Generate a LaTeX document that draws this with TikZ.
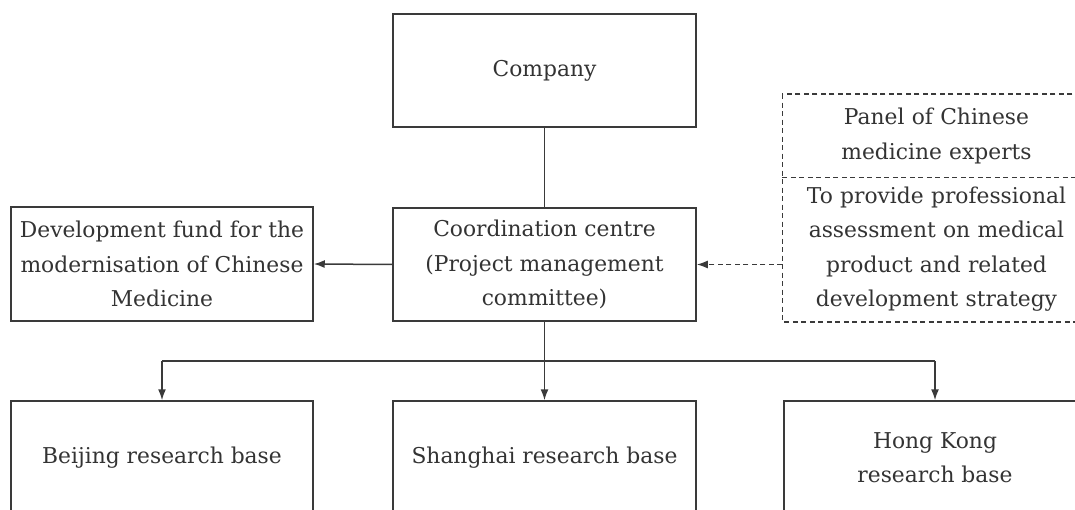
\documentclass[tikz,border=0pt]{standalone}
\usepackage{fontspec}
\setmainfont{DejaVu Serif}
\usetikzlibrary{arrows.meta,positioning}
\definecolor{ink}{HTML}{333333}
\definecolor{linec}{HTML}{3A3A3A}
\begin{document}
\begin{tikzpicture}[x=1pt,y=-1pt,
  box/.style={draw=linec,line width=1.5pt,rectangle,inner sep=0pt,align=center,text=ink,
    font=\fontsize{21.8}{34.5}\selectfont},
  tbox/.style={box,draw=none},
  dline/.style={draw=linec,line width=1.5pt,dash pattern=on 5pt off 3.5pt},
  conn/.style={draw=linec,line width=1.5pt},
  arr/.style={conn,-{Latex[length=11pt,width=8pt]}},
  darr/.style={arr,dash pattern=on 5pt off 3.5pt}]
\useasboundingbox (0,0) rectangle (1075,510);
\clip (0,0) rectangle (1075,510);
\node[box,minimum width=303pt,minimum height=113pt] (comp) at (544.5,70.5) {Company};
\node[box,minimum width=303pt,minimum height=113pt] (coord) at (544.5,264.5)
  {Coordination centre\\(Project management\\committee)};
\node[box,minimum width=302pt,minimum height=114pt] (fund) at (162,264)
  {Development fund for the\\modernisation of Chinese\\Medicine};
\node[tbox,minimum width=307pt,minimum height=82pt,text width=307pt] (panel) at (936.5,136)
  {Panel of Chinese\\medicine experts};
\node[tbox,minimum width=307pt,minimum height=144pt,text width=307pt] (expl) at (936.5,249)
  {To provide professional\\assessment on medical\\product and related\\development strategy};
\draw[dline] (panel.north west) rectangle (expl.south east);
\draw[dline] (panel.south west) -- (panel.south east);
\node[box,minimum width=302pt,minimum height=113pt] (bj) at (162,457.5) {Beijing research base};
\node[box,minimum width=303pt,minimum height=113pt] (sh) at (544.5,457.5) {Shanghai research base};
\node[box,minimum width=302pt,minimum height=113pt] (hk) at (935,457.5) {Hong Kong\\research base};
\coordinate (bar) at (544.5,361);
\draw[conn] (comp.south) -- (coord.north);
\draw[arr] (coord.west) -- (fund.east);
\draw[darr] (coord.east -| expl.west) -- (coord.east);
\draw[conn] (coord.south) -- (bar);
\draw[conn] (bj.north |- bar) -- (hk.north |- bar);
\draw[arr] (bj.north |- bar) -- (bj.north);
\draw[arr] (bar) -- (sh.north);
\draw[arr] (hk.north |- bar) -- (hk.north);
\end{tikzpicture}
\end{document}
